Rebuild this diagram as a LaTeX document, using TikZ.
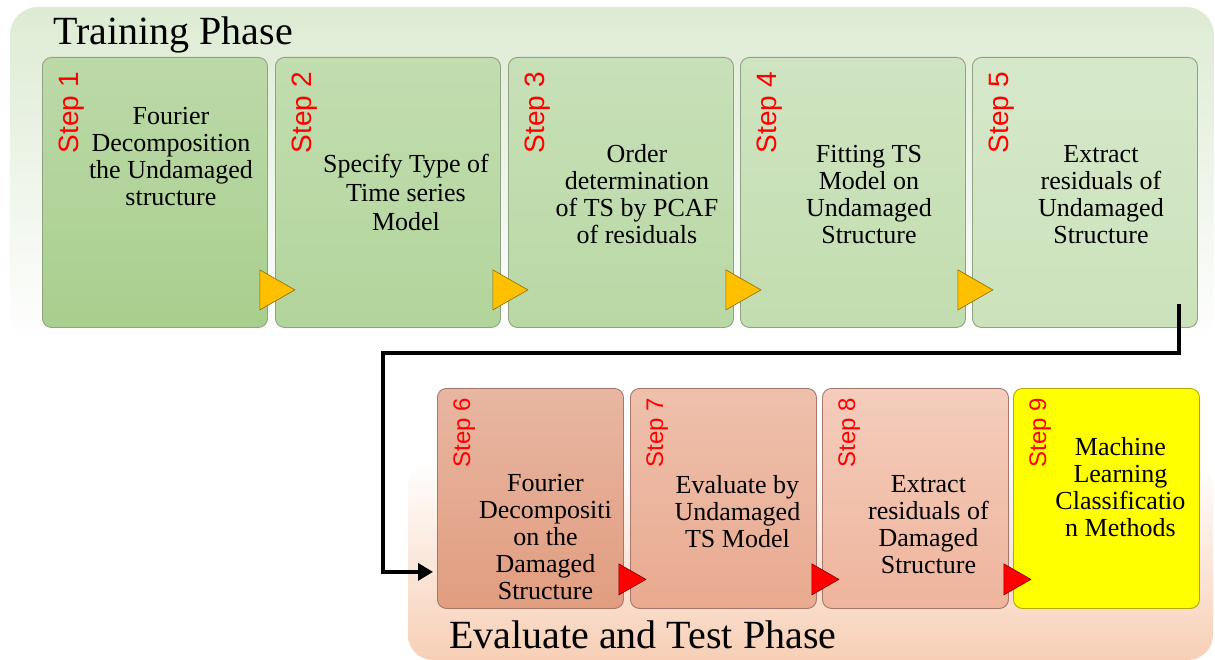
\documentclass[tikz,border=0pt]{standalone}
\usepackage{fontspec}
\setmainfont{Liberation Serif}
\newfontfamily\bodyfont{Liberation Serif}
\newfontfamily\stepfont{Liberation Sans}
\usetikzlibrary{calc,arrows.meta}

\definecolor{bgGreen}{HTML}{DDEBD3}
\definecolor{bgPeach}{HTML}{F7CFB6}
\definecolor{gBorder}{HTML}{8FA283}
\definecolor{rBorder}{HTML}{A8766A}
\definecolor{yBorder}{HTML}{B5A800}
\definecolor{boxYellow}{HTML}{FFFF00}
\definecolor{triYellow}{HTML}{FFC000}
\definecolor{triYellowEdge}{HTML}{8C6A00}
\definecolor{triRedEdge}{HTML}{7A0000}
% step box shades, top and bottom
\definecolor{g1t}{HTML}{BCD9A8}\definecolor{g1b}{HTML}{A8CF8E}
\definecolor{g2t}{HTML}{C2DDB0}\definecolor{g2b}{HTML}{B2D59B}
\definecolor{g3t}{HTML}{C8E0B8}\definecolor{g3b}{HTML}{B9D8A5}
\definecolor{g4t}{HTML}{CFE4C1}\definecolor{g4b}{HTML}{C2DDAF}
\definecolor{g5t}{HTML}{D6E8CA}\definecolor{g5b}{HTML}{CBE2BB}
\definecolor{r6t}{HTML}{E8B6A1}\definecolor{r6b}{HTML}{E19D80}
\definecolor{r7t}{HTML}{EEC0AC}\definecolor{r7b}{HTML}{E9AA90}
\definecolor{r8t}{HTML}{F4CDBC}\definecolor{r8b}{HTML}{EFB49C}

\tikzset{
  topbox/.style={draw=gBorder, line width=0.9pt, rounded corners=9pt,
    minimum width=225pt, minimum height=270pt, anchor=north west, inner sep=0pt},
  lowbox/.style={draw=rBorder, line width=0.9pt, rounded corners=9pt,
    minimum width=186pt, minimum height=220pt, anchor=north west, inner sep=0pt},
  maintext/.style={font=\bodyfont\fontsize{26}{27}\selectfont, align=center, inner sep=0pt},
  steptop/.style={font=\stepfont\fontsize{28}{28}\selectfont, text=red,
    rotate=90, anchor=base east, inner sep=0pt},
  steplow/.style={font=\stepfont\fontsize{24}{24}\selectfont, text=red,
    rotate=90, anchor=base east, inner sep=0pt},
  phasetitle/.style={font=\bodyfont\fontsize{40}{40}\selectfont, anchor=base west, inner sep=0pt},
  flow/.style={line width=3.5pt, -{Triangle[length=15pt,width=17pt]}},
  ytri/.pic={\filldraw[fill=triYellow, draw=triYellowEdge, line width=0.6pt]
    (-8,-58) -- (27,-38) -- (-8,-18) -- cycle;},
  rtri/.pic={\filldraw[fill=red, draw=triRedEdge, line width=0.6pt]
    (-5,-45) -- (22,-29.5) -- (-5,-14) -- cycle;}
}

\begin{document}
\begin{tikzpicture}[x=1pt, y=-1pt]
\useasboundingbox (0,0) rectangle (1215,660);

% phase backgrounds
\path[rounded corners=28pt, top color=bgGreen, middle color=white, bottom color=white]
  (10,7) rectangle (1214,345);
\path[rounded corners=25pt, top color=white, middle color=bgPeach!45, bottom color=bgPeach]
  (408,460) rectangle (1213,660);

\node[phasetitle] (t1) at (53,45) {Training Phase};
\node[phasetitle] (t2) at (449,648) {Evaluate and Test Phase};

% training steps
\node[topbox, top color=g1t, bottom color=g1b] (b1) at (42,57) {};
\node[topbox, top color=g2t, bottom color=g2b] (b2) at (275,57) {};
\node[topbox, top color=g3t, bottom color=g3b] (b3) at (508,57) {};
\node[topbox, top color=g4t, bottom color=g4b] (b4) at (740,57) {};
\node[topbox, top color=g5t, bottom color=g5b] (b5) at (972,57) {};

\node[steptop] (s1) at ($(b1.north west)+(36,15)$) {Step 1};
\node[steptop] (s2) at ($(b2.north west)+(36,15)$) {Step 2};
\node[steptop] (s3) at ($(b3.north west)+(36,15)$) {Step 3};
\node[steptop] (s4) at ($(b4.north west)+(36,15)$) {Step 4};
\node[steptop] (s5) at ($(b5.north west)+(36,15)$) {Step 5};

\node[maintext] (x1) at ($(b1.center)+(16,-36)$) {Fourier\\Decomposition\\the Undamaged\\structure};
\node[maintext, font=\bodyfont\fontsize{26}{29}\selectfont] (x2) at ($(b2.center)+(18,0)$) {Specify Type of\\Time series\\Model};
\node[maintext] (x3) at ($(b3.center)+(16,2)$) {Order\\determination\\of TS by PCAF\\of residuals};
\node[maintext] (x4) at ($(b4.center)+(16,2)$) {Fitting TS\\Model on\\Undamaged\\Structure};
\node[maintext] (x5) at ($(b5.center)+(16,2)$) {Extract\\residuals of\\Undamaged\\Structure};

\pic at (b1.south east) {ytri};
\pic at (b2.south east) {ytri};
\pic at (b3.south east) {ytri};
\pic at (b4.south east) {ytri};

% evaluation steps
\node[lowbox, top color=r6t, bottom color=r6b] (b6) at (437,388) {};
\node[lowbox, top color=r7t, bottom color=r7b] (b7) at (630,388) {};
\node[lowbox, top color=r8t, bottom color=r8b] (b8) at (822,388) {};
\node[lowbox, draw=yBorder, fill=boxYellow] (b9) at (1013,388) {};

\node[steplow] (s6) at ($(b6.north west)+(33,10)$) {Step 6};
\node[steplow] (s7) at ($(b7.north west)+(33,10)$) {Step 7};
\node[steplow] (s8) at ($(b8.north west)+(33,10)$) {Step 8};
\node[steplow] (s9) at ($(b9.north west)+(33,10)$) {Step 9};

\node[maintext] (x6) at ($(b6.center)+(15,39)$) {Fourier\\Decompositi\\on the\\Damaged\\Structure};
\node[maintext] (x7) at ($(b7.center)+(14,13)$) {Evaluate by\\Undamaged\\TS Model};
\node[maintext] (x8) at ($(b8.center)+(13,26)$) {Extract\\residuals of\\Damaged\\Structure};
\node[maintext] (x9) at ($(b9.center)+(14,-11)$) {Machine\\Learning\\Classificatio\\n Methods};

\pic at (b6.south east) {rtri};
\pic at (b7.south east) {rtri};
\pic at (b8.south east) {rtri};

% hand-over from the training row to the evaluation row
\coordinate (out5) at ($(b5.south east)+(-19,-24)$);
\coordinate (in6) at ($(b6.south west)+(-4,-37)$);
\draw[flow] (out5) -- ++(0,49) -| ($(in6)+(-50,0)$) -- (in6);
\end{tikzpicture}
\end{document}
